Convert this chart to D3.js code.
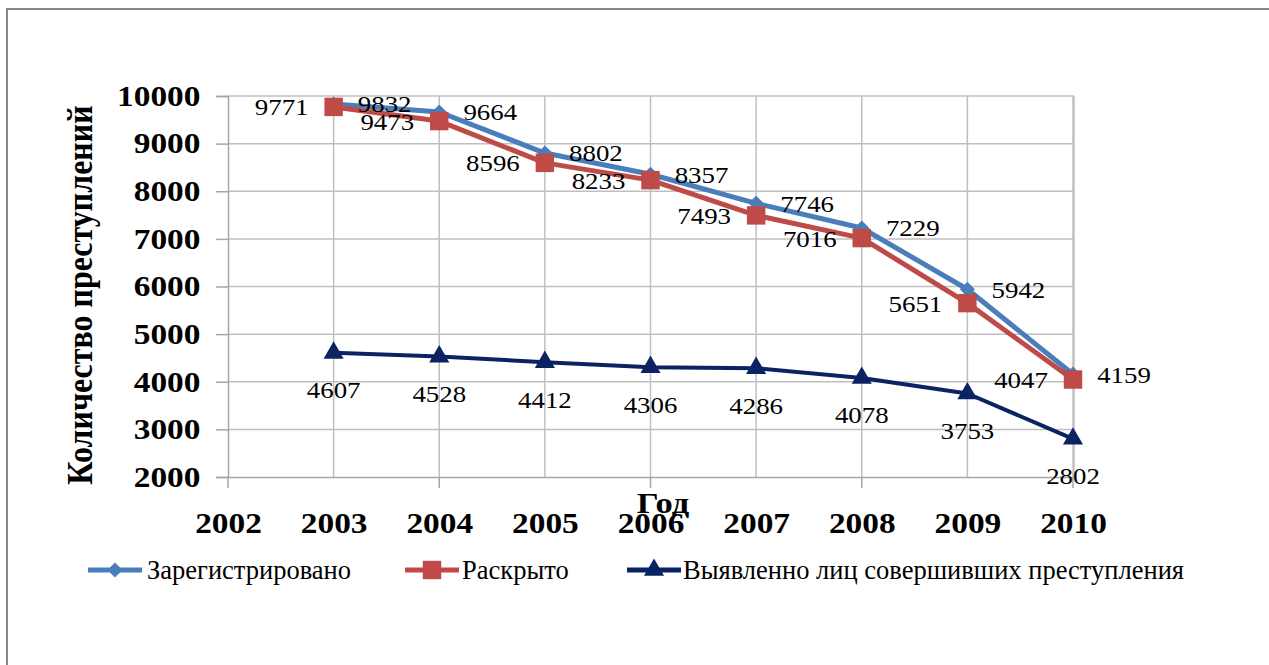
<!DOCTYPE html>
<html>
<head>
<meta charset="utf-8">
<script src="https://cdn.jsdelivr.net/npm/d3@7"></script>
<style>
  body { margin: 0; background: #fff; }
  svg text { font-family: "Liberation Serif", Tinos, "Times New Roman", "DejaVu Serif", serif; fill: #000; }
</style>
</head>
<body>
<script>
// Crime statistics 2003-2010, line chart

// data
var years = [2003, 2004, 2005, 2006, 2007, 2008, 2009, 2010];
var registered = [9832, 9664, 8802, 8357, 7746, 7229, 5942, 4159];
var solved = [9771, 9473, 8596, 8233, 7493, 7016, 5651, 4047];
var persons = [4607, 4528, 4412, 4306, 4286, 4078, 3753, 2802];
var seriesNames = ["Зарегистрировано", "Раскрыто", "Выявленно лиц совершивших преступления"];
var yTicks = [2000, 3000, 4000, 5000, 6000, 7000, 8000, 9000, 10000];
var xTicks = [2002, 2003, 2004, 2005, 2006, 2007, 2008, 2009, 2010];

var colors = ["#4a7ebb", "#be4b48", "#0c2363"];
var serif = "'Liberation Serif', Tinos, 'Times New Roman', 'DejaVu Serif', serif";
var wide = 1.15; // the original picture's text is a bit wider than Times

let svg = null;
let x, y = null;

var plot = {left: 228, right: 1074, top: 96, bottom: 477};

appendSvg("body");
setupScales();
appendGrid();
appendAxes();
appendSeries();
appendLegend();

function appendSvg(domElement) {
  svg = d3.select(domElement).append("svg")
    .attr("width", 1269)
    .attr("height", 665)
    .attr("font-family", serif);

  // outer chart frame
  svg.append("rect")
    .attr("x", 7).attr("y", 9)
    .attr("width", 1300).attr("height", 700)
    .attr("fill", "none")
    .attr("stroke", "#868686")
    .attr("stroke-width", 2);
}

function setupScales() {
  x = d3.scaleLinear()
    .domain([2002, 2010])
    .range([plot.left, plot.right - 1]);

  y = d3.scaleLinear()
    .domain([2000, 10000])
    .range([plot.bottom, plot.top]);
}

function appendGrid() {
  var grid = svg.append("g").attr("stroke", "#bfbfbf").attr("stroke-width", 1.5);

  grid.selectAll(".hgrid")
    .data(yTicks.slice(1))
    .enter().append("line")
    .attr("x1", plot.left).attr("x2", plot.right)
    .attr("y1", function(d) { return y(d); })
    .attr("y2", function(d) { return y(d); });

  grid.selectAll(".vgrid")
    .data(years)
    .enter().append("line")
    .attr("x1", function(d) { return x(d); })
    .attr("x2", function(d) { return x(d); })
    .attr("y1", plot.top).attr("y2", plot.bottom);

  // right edge of plot area
  grid.append("line")
    .attr("x1", plot.right).attr("x2", plot.right)
    .attr("y1", plot.top).attr("y2", plot.bottom);
}

function appendAxes() {
  // Y axis
  var yAxis = svg.append("g")
    .attr("transform", "translate(" + plot.left + ",0)")
    .call(d3.axisLeft(y).tickValues(yTicks).tickSize(12).tickPadding(12).tickFormat(d3.format("d")));
  yAxis.attr("font-family", serif);
  yAxis.selectAll("line, path").attr("stroke", "#a6a6a6").attr("stroke-width", 1.5);
  yAxis.selectAll("text")
    .attr("transform", "scale(" + wide + ",1)")
    .style("font-family", serif)
    .style("font-size", "29px")
    .style("font-weight", "bold")
    .attr("fill", "#000");

  // X axis: labels every year, tick marks every other year
  var xAxis = svg.append("g")
    .attr("transform", "translate(0," + plot.bottom + ")")
    .call(d3.axisBottom(x).tickValues(xTicks).tickSize(0).tickFormat(d3.format("d")));
  xAxis.attr("font-family", serif);
  xAxis.select("path").attr("stroke", "#a6a6a6").attr("stroke-width", 1.5);
  xAxis.selectAll("text")
    .attr("y", 56).attr("dy", 0)
    .attr("transform", "scale(" + wide + ",1)")
    .style("font-family", serif)
    .style("font-size", "29px")
    .style("font-weight", "bold")
    .attr("fill", "#000");

  svg.append("g").selectAll("line")
    .data(xTicks.filter(function(d) { return d % 2 === 0; }))
    .enter().append("line")
    .attr("x1", function(d) { return x(d); })
    .attr("x2", function(d) { return x(d); })
    .attr("y1", plot.bottom).attr("y2", plot.bottom + 11)
    .attr("stroke", "#a6a6a6").attr("stroke-width", 1.5);

  // axis titles
  svg.append("text")
    .attr("transform", "translate(663,513) scale(" + wide + ",1)")
    .attr("text-anchor", "middle")
    .style("font-size", "30px")
    .style("font-weight", "bold")
    .text("Год");

  svg.append("text")
    .attr("transform", "translate(92,295) rotate(-90) scale(1," + wide + ")")
    .attr("text-anchor", "middle")
    .style("font-size", "32px")
    .style("font-weight", "bold")
    .text("Количество преступлений");
}

function marker(i) {
  if (i === 0) return d3.symbol().type(d3.symbolSquare).size(115)();
  if (i === 1) return d3.symbol().type(d3.symbolSquare).size(340)();
  return d3.symbol().type(d3.symbolTriangle).size(175)();
}

function appendSeries() {
  var all = [registered, solved, persons];
  var line = d3.line()
    .x(function(d, i) { return x(years[i]); })
    .y(function(d) { return y(d); });

  all.forEach(function(values, s) {
    svg.append("path")
      .datum(values)
      .attr("d", line)
      .attr("fill", "none")
      .attr("stroke", colors[s])
      .attr("stroke-width", s === 2 ? 4 : 5)
      .attr("stroke-linejoin", "round");
  });

  all.forEach(function(values, s) {
    svg.selectAll(".m" + s)
      .data(values)
      .enter().append("path")
      .attr("d", marker(s))
      .attr("fill", colors[s])
      .attr("transform", function(d, i) {
        return "translate(" + x(years[i]) + "," + y(d) + ")" + (s === 0 ? " rotate(45)" : "");
      });
  });

  // data labels: registered right, solved left, persons below
  all.forEach(function(values, s) {
    svg.selectAll(".l" + s)
      .data(values)
      .enter().append("text")
      .attr("transform", function(d, i) {
        var lx = x(years[i]);
        if (s === 0) lx += 51;
        if (s === 1) lx -= 52;
        var ly = y(d) + (s === 2 ? 37 : 0);
        return "translate(" + lx + "," + ly + ") scale(1.12,1)";
      })
      .attr("dy", "0.35em")
      .attr("text-anchor", "middle")
      .style("font-size", "24px")
      .text(function(d) { return d; });
  });
}

function appendLegend() {
  var items = [
    {lx: 88, tx: 147},
    {lx: 405, tx: 462},
    {lx: 627, tx: 683}
  ];
  var ly = 570;

  var legend = svg.selectAll(".legend")
    .data(seriesNames)
    .enter().append("g")
    .attr("class", "legend");

  legend.append("line")
    .attr("x1", function(d, i) { return items[i].lx; })
    .attr("x2", function(d, i) { return items[i].lx + 54; })
    .attr("y1", ly).attr("y2", ly)
    .attr("stroke", function(d, i) { return colors[i]; })
    .attr("stroke-width", 5);

  legend.append("path")
    .attr("d", function(d, i) { return marker(i); })
    .attr("fill", function(d, i) { return colors[i]; })
    .attr("transform", function(d, i) {
      return "translate(" + (items[i].lx + 27) + "," + ly + ")" + (i === 0 ? " rotate(45)" : "");
    });

  legend.append("text")
    .attr("x", function(d, i) { return items[i].tx; })
    .attr("y", ly)
    .attr("dy", "0.33em")
    .style("font-size", "26.5px")
    .text(function(d) { return d; });
}
</script>
</body>
</html>
